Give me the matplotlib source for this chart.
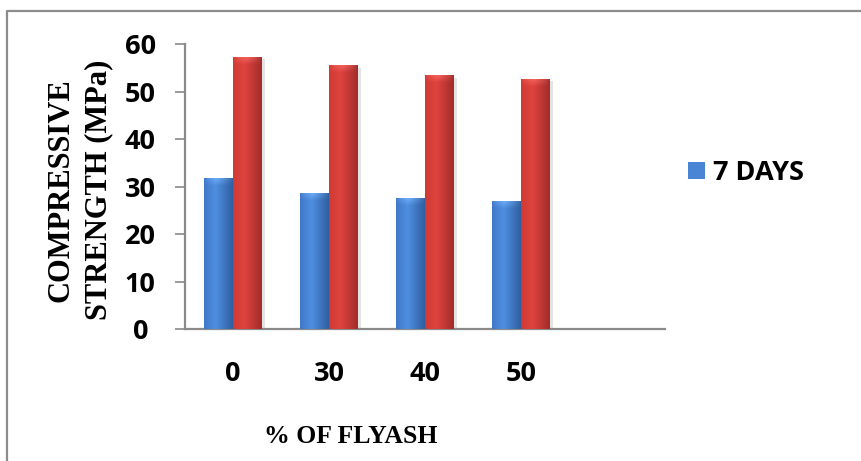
import matplotlib
matplotlib.use("Agg")
import matplotlib.pyplot as plt
import numpy as np
from matplotlib.colors import to_rgb
from matplotlib.lines import Line2D
import matplotlib.patheffects as pe

# Compressive strength of concrete vs. fly ash replacement
categories = ["0", "30", "40", "50", ""]
strength_7d = [31.7, 28.6, 27.4, 26.9]
strength_28d = [57.2, 55.4, 53.3, 52.6]
y_ticks = [0, 10, 20, 30, 40, 50, 60]

W, H = 861, 461
fig = plt.figure(figsize=(W / 100, H / 100), dpi=100)
fig.patch.set_facecolor("white")

ax = fig.add_axes([185 / W, 1 - 329 / H, 480 / W, 285 / H])
ax.set_facecolor("none")

tick_font = dict(family=["Open Sans", "DejaVu Sans"], weight="bold", size=19.5)
serif_font = dict(family=["Liberation Serif", "DejaVu Serif"], weight="bold")

x = np.arange(len(strength_7d))
bw = 0.3
shadow = [pe.SimplePatchShadow(offset=(2.5, -1.5), shadow_rgbFace="#909090", alpha=0.25), pe.Normal()]
bars7 = ax.bar(x - bw / 2, strength_7d, bw, color="#4a84d4", zorder=2, label="7 DAYS",
               path_effects=shadow)
bars28 = ax.bar(x + bw / 2, strength_28d, bw, color="#d63b36", zorder=2,
                path_effects=shadow)


def shade(bars, left, mid, right):
    """Paint a cylindrical left-to-right shading over each bar."""
    n = 64
    t = np.linspace(0, 1, n)
    cl, cm, cr = (np.array(to_rgb(c)) for c in (left, mid, right))
    cols = np.empty((1, n, 3))
    for i, v in enumerate(t):
        if v < 0.4:
            cols[0, i] = cl + (cm - cl) * (v / 0.4)
        else:
            cols[0, i] = cm + (cr - cm) * ((v - 0.4) / 0.6)
    for b in bars:
        x0, w, h = b.get_x(), b.get_width(), b.get_height()
        ax.imshow(cols, extent=(x0, x0 + w, 0, h), aspect="auto", zorder=3,
                  interpolation="bilinear")
        # lighter rounded cap at the top of the bar
        cap = np.empty((8, n, 4))
        for j in range(8):
            cap[j, :, :3] = np.clip(cols[0] + 0.18, 0, 1)
            cap[j, :, 3] = np.clip(1 - np.abs(t - 0.5) * 2, 0, 1) ** 0.5 * (1 - j / 8) * 0.7
        ax.imshow(cap, extent=(x0, x0 + w, h - 1.4, h), aspect="auto", zorder=4,
                  interpolation="bilinear")


shade(bars7, "#3f78c8", "#4f8fe0", "#2f5f9f")
shade(bars28, "#cf3a35", "#e0443e", "#a02c2a")

ax.set_xlim(-0.5, len(categories) - 0.5)
ax.set_ylim(0, 60)
ax.set_xticks(np.arange(len(categories)))
ax.set_xticklabels(categories, **tick_font)
ax.set_yticks(y_ticks)
ax.set_yticklabels([str(v) for v in y_ticks], **tick_font)
for lab in ax.get_yticklabels():
    lab.set_ha("center")

for s in ("top", "right"):
    ax.spines[s].set_visible(False)
for s in ("left", "bottom"):
    ax.spines[s].set_color("#8a8a8a")
    ax.spines[s].set_linewidth(1.6)
ax.tick_params(axis="y", direction="out", length=7.2, width=1.2, color="#8a8a8a", pad=25)
ax.tick_params(axis="x", length=0, pad=23)

# axis titles
fig.text(80 / W, 1 - 190 / H, "COMPRESSIVE\nSTRENGTH (MPa)", rotation=90,
         ha="center", va="center", multialignment="center", fontsize=22,
         linespacing=1.42, **serif_font)
fig.text(351 / W, 1 - 443 / H, "% OF FLYASH", ha="center", va="baseline",
         fontsize=18.5, **serif_font)

# legend
leg = fig.legend(handles=[bars7], labels=["7 DAYS"], loc="center left",
                 bbox_to_anchor=(674 / W, 1 - 173 / H), frameon=False, borderpad=0,
                 handlelength=0.65, handleheight=0.55, handletextpad=0.3,
                 prop=dict(family=["Open Sans", "DejaVu Sans"], weight="bold", size=19.5))
for hnd in leg.legend_handles:
    hnd.set_path_effects([])

# chart frame (left and top edges)
fig.add_artist(Line2D([7 / W, 7 / W, 1.0], [0.0, 1 - 11 / H, 1 - 11 / H],
                      transform=fig.transFigure, color="#8c8c8c", linewidth=1.6))

fig.savefig("out.png", dpi=100)
